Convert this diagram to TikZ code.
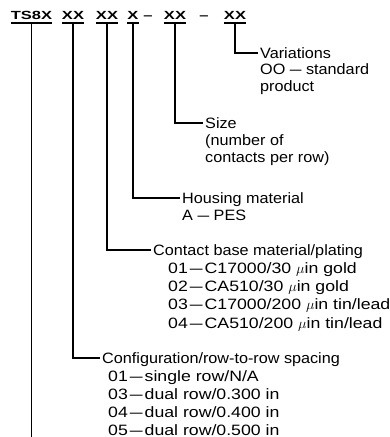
\documentclass[tikz,border=0pt]{standalone}
\usepackage{fontspec}
\setmainfont[FakeStretch=1.08]{Liberation Sans}
\newfontfamily\listfont[FakeStretch=1.18]{Liberation Sans}
\newfontfamily\codefont[FakeStretch=1.4]{Liberation Sans}
\newcommand\dsh{\scalebox{1.3}[1]{\textendash}}
\newcommand\ldsh{\kern2pt\dsh\kern2pt}

\tikzset{
  code/.style={font=\codefont\bfseries\fontsize{11.8}{14}\selectfont, anchor=base,
    inner xsep=0pt, inner ysep=3.6pt, text depth=0pt},
  lbl/.style={font=\fontsize{15}{17}\selectfont, anchor=base west,
    inner xsep=2pt, inner ysep=0pt, text height=10.6pt, text depth=0pt},
  item/.style={lbl, font=\listfont\fontsize{15}{17}\selectfont},
  link/.style={line width=1.8pt},
}

\begin{document}
\begin{tikzpicture}[x=1pt,y=-1pt]
\useasboundingbox (0,0) rectangle (390,437);

% part number
\node[code] (ts) at (31.5,19.2) {TS8X};
\node[code] (cfg) at (73,19.2) {XX};
\node[code] (mat) at (107,19.2) {XX};
\node[code] (hsg) at (133,19.2) {X};
\node[code] (d1) at (148,19.2) {\textendash};
\node[code] (sz) at (175,19.2) {XX};
\node[code] (d2) at (204,19.2) {\textendash};
\node[code] (var) at (235,19.2) {XX};

\foreach \n in {ts,cfg,mat,hsg,sz,var}
  \draw[line width=1.5pt] (\n.south west) -- (\n.south east);

% labels
\foreach \t [count=\i] in {Variations, {OO \dsh\ standard}, product}
  \node[lbl] (v\i) at (258,{58.3+16.6*(\i-1)}) {\t};
\foreach \t [count=\i] in {Size, {(number of}, {contacts per row)}}
  \node[lbl] (s\i) at (203,{128.3+17.3*(\i-1)}) {\t};
\foreach \t [count=\i] in {Housing material, {A \dsh\ PES}}
  \node[lbl] (h\i) at (180,{203.3+16.7*(\i-1)}) {\t};

\node[lbl] (m0) at (151,255) {Contact base material/plating};
\foreach \t [count=\i] in {{01\ldsh C17000/30 $\mu$in gold}, {02\ldsh CA510/30 $\mu$in gold},
    {03\ldsh C17000/200 $\mu$in tin/lead}, {04\ldsh CA510/200 $\mu$in tin/lead}}
  \node[item] (m\i) at (166,{273.3+18.3*(\i-1)}) {\t};

\node[lbl] (c0) at (100,363.3) {Configuration/row-to-row spacing};
\foreach \t [count=\i] in {{01\ldsh single row/N/A}, {03\ldsh dual row/0.300 in},
    {04\ldsh dual row/0.400 in}, {05\ldsh dual row/0.500 in}}
  \node[item] (c\i) at (106,{381.4+17.9*(\i-1)}) {\t};

% leaders
\coordinate (bot) at (0,437);
\draw[link] (ts.south) -- (ts.south |- bot);
\draw[link] (cfg.south) |- (c0.west);
\draw[link] (mat.south) |- (m0.west);
\draw[link] (hsg.south) |- (h1.west);
\draw[link] (sz.south) |- (s1.west);
\draw[link] (var.south) |- (v1.west);

\end{tikzpicture}
\end{document}
